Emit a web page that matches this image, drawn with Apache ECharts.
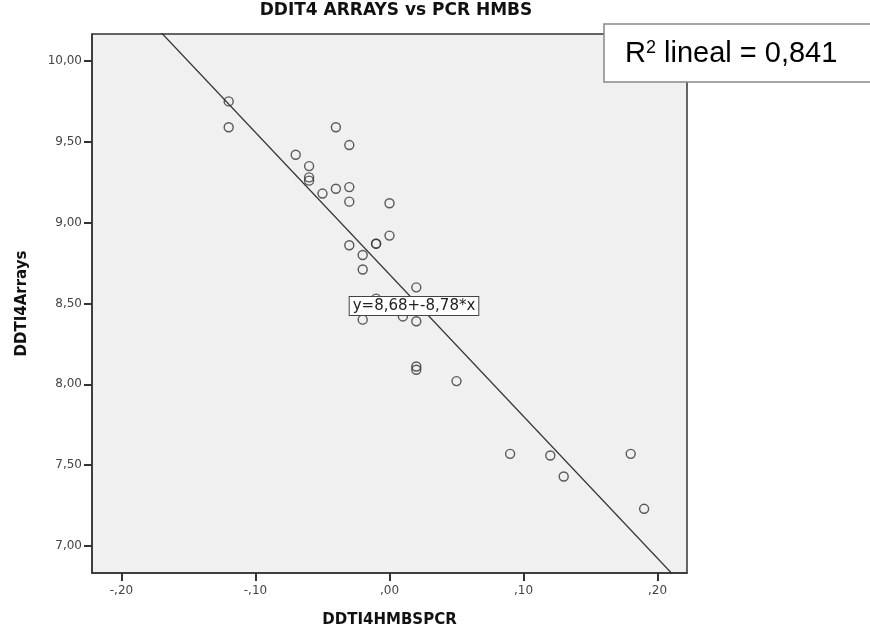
<!DOCTYPE html>
<html>
<head>
<meta charset="utf-8">
<script src="https://cdn.jsdelivr.net/npm/echarts@6/dist/echarts.min.js"></script>
<style>
  html, body { margin: 0; padding: 0; background: #fff; }
  #chart { width: 870px; height: 630px; }
</style>
</head>
<body>
<div id="chart"></div>
<script>
// values
const pcrValues = [-0.12, -0.12, -0.04, -0.03, -0.07, -0.06, -0.06, -0.06, -0.05, -0.04, -0.03, -0.03,
  0.00, 0.00, -0.01, -0.01, -0.03, -0.02, -0.02, 0.02, -0.01, -0.02, 0.01, 0.02, 0.02, 0.02,
  0.05, 0.09, 0.12, 0.13, 0.18, 0.19]
const arrayValues = [9.75, 9.59, 9.59, 9.48, 9.42, 9.35, 9.28, 9.26, 9.18, 9.21, 9.22, 9.13,
  9.12, 8.92, 8.87, 8.87, 8.86, 8.80, 8.71, 8.60, 8.53, 8.40, 8.42, 8.39, 8.11, 8.09,
  8.02, 7.57, 7.56, 7.43, 7.57, 7.23]
const xTicks = [-0.2, -0.1, 0, 0.1, 0.2]
const yTicks = [7, 7.5, 8, 8.5, 9, 9.5, 10]
const fitIntercept = 8.68
const fitSlope = -8.78
const rSquared = 0.841

const xRange = [-0.222, 0.222]
const yRange = [6.833, 10.167]

// SPSS style numbers: ",20" / "-,10" / "9,50"
function spss(v) {
  let s = v.toFixed(2).replace('.', ',')
  return s.replace(/^(-?)0,/, '$1,')
}

const points = pcrValues.map((x, i) => [x, arrayValues[i]])
const fitLine = xRange.map(x => [x, fitIntercept + fitSlope * x])

const axisText = { color: '#444', fontFamily: 'DejaVu Sans', fontSize: 12 }
const nameText = { color: '#111', fontFamily: 'DejaVu Sans', fontWeight: 'bold', fontSize: 15 }
const frame = { color: '#333', width: 1.5 }

const chart = echarts.init(document.getElementById('chart'), null, { renderer: 'canvas' })
chart.setOption({
  animation: false,
  backgroundColor: '#fff',
  grid: {
    left: 92, right: 183, top: 34, bottom: 57,
    outerBoundsMode: 'none',
    containLabel: false,
    show: true,
    backgroundColor: '#f0f0f0',
    borderColor: '#333',
    borderWidth: 1.5
  },
  xAxis: {
    type: 'value',
    min: xRange[0],
    max: xRange[1],
    name: 'DDTI4HMBSPCR',
    nameLocation: 'middle',
    nameGap: 40,
    nameTextStyle: nameText,
    axisLine: { show: true, onZero: false, lineStyle: frame },
    axisTick: { show: true, length: 8, customValues: xTicks, lineStyle: { color: '#333', width: 2 } },
    axisLabel: { customValues: xTicks, formatter: spss, margin: 12, ...axisText },
    splitLine: { show: false }
  },
  yAxis: {
    type: 'value',
    min: yRange[0],
    max: yRange[1],
    name: 'DDTI4Arrays',
    nameLocation: 'middle',
    nameGap: 62,
    nameTextStyle: nameText,
    axisLine: { show: true, onZero: false, lineStyle: frame },
    axisTick: { show: true, length: 8, customValues: yTicks, lineStyle: { color: '#333', width: 2 } },
    axisLabel: { customValues: yTicks, formatter: spss, margin: 10, ...axisText },
    splitLine: { show: false }
  },
  series: [
    {
      type: 'line',
      data: fitLine,
      symbol: 'none',
      clip: true,
      silent: true,
      lineStyle: { color: '#333', width: 1.3 },
      z: 2
    },
    {
      type: 'scatter',
      data: points,
      symbol: 'circle',
      symbolSize: 9,
      itemStyle: { color: 'rgba(0,0,0,0)', borderColor: '#333', borderWidth: 1.4 },
      z: 3
    }
  ],
  graphic: [
    {
      type: 'text',
      x: 396, y: 11,
      style: {
        text: 'DDIT4 ARRAYS vs PCR HMBS',
        align: 'center', verticalAlign: 'middle',
        font: 'bold 17px "DejaVu Sans"', fill: '#111'
      }
    },
    {
      type: 'text',
      x: 414, y: 306,
      z: 10,
      style: {
        text: 'y=8,68+-8,78*x',
        align: 'center', verticalAlign: 'middle',
        font: '15px "DejaVu Sans"', fill: '#222',
        backgroundColor: '#fff', borderColor: '#444', borderWidth: 1,
        padding: [2, 3, 1, 3]
      }
    },
    {
      type: 'rect',
      z: 10,
      shape: { x: 604, y: 24, width: 268, height: 58 },
      style: { fill: '#fff', stroke: '#888', lineWidth: 1.5 }
    },
    {
      type: 'text',
      x: 625, y: 54,
      z: 11,
      style: {
        text: '{r|R}{sup|2}{r| lineal = ' + rSquared.toFixed(3).replace('.', ',') + '}',
        verticalAlign: 'middle',
        rich: {
          r: { font: '29px "Liberation Sans"', fill: '#000' },
          sup: { font: '18px "Liberation Sans"', fill: '#000', padding: [0, 0, 12, 0] }
        }
      }
    }
  ]
})
</script>
</body>
</html>
